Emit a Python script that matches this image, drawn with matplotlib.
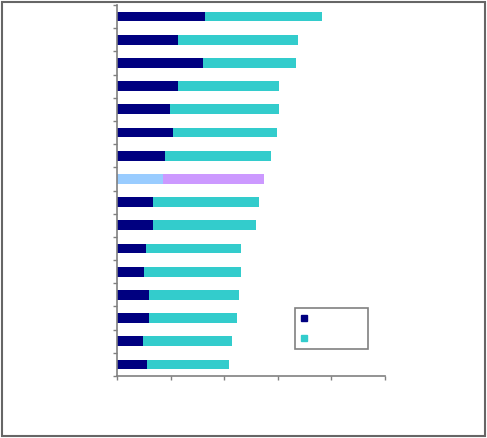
import matplotlib.pyplot as plt
from matplotlib.patches import Rectangle
from matplotlib.lines import Line2D

# 16 bars from top to bottom (the chart has no visible text)
part1 = [32.8, 22.8, 32.1, 22.8, 19.8, 20.9, 17.9, 17.2, 13.4, 13.4, 10.8, 10.1, 11.9, 11.9, 9.7, 11.2]
total = [76.5, 67.4, 66.7, 60.4, 60.3, 59.7, 57.5, 54.9, 53.0, 51.9, 46.3, 46.3, 45.5, 44.8, 42.9, 41.8]
highlight = 7  # the bar drawn in other colours
part2 = [t - p for t, p in zip(total, part1)]

c1 = ['#99CCFF' if i == highlight else '#000080' for i in range(len(part1))]
c2 = ['#CC99FF' if i == highlight else '#33CCCC' for i in range(len(part1))]

fig = plt.figure(figsize=(4.87, 4.38), dpi=100)
ax = fig.add_axes([117/487, 62/438, 268/487, 371/438])

pos = list(range(len(part1)))
ax.barh(pos, part1, height=0.42, color=c1)
ax.barh(pos, part2, left=part1, height=0.42, color=c2)

ax.set_xlim(0, 100)
ax.set_ylim(len(part1) - 0.5, -0.5)
ax.set_xticks([0, 20, 40, 60, 80, 100])
ax.set_yticks([i - 0.5 for i in range(len(part1) + 1)])
ax.set_xticklabels([])
ax.set_yticklabels([])
ax.tick_params(axis='both', length=3, width=1, color='#808080')
for s in ['top', 'right']:
    ax.spines[s].set_visible(False)
for s in ['left', 'bottom']:
    ax.spines[s].set_color('#808080')
    ax.spines[s].set_linewidth(1.2)

handles = [Line2D([], [], ls='', marker='s', markersize=5, color='#000080'),
           Line2D([], [], ls='', marker='s', markersize=5, color='#33CCCC')]
leg = fig.legend(handles, [' ', ' '], loc='lower left',
                 bbox_to_anchor=(295/487, 89/438, 73/487, 39/438), mode='expand',
                 fancybox=False, framealpha=1, edgecolor='#808080',
                 fontsize=8, labelspacing=0.9, handlelength=0.6,
                 borderpad=0.5, handletextpad=0.5, borderaxespad=0)
leg.get_frame().set_linewidth(1.2)

fig.patches.append(Rectangle((2/487, 2/438), 483/487, 434/438, transform=fig.transFigure,
                             fill=False, edgecolor='#666666', linewidth=1.5))

fig.savefig('out.png', dpi=100)
